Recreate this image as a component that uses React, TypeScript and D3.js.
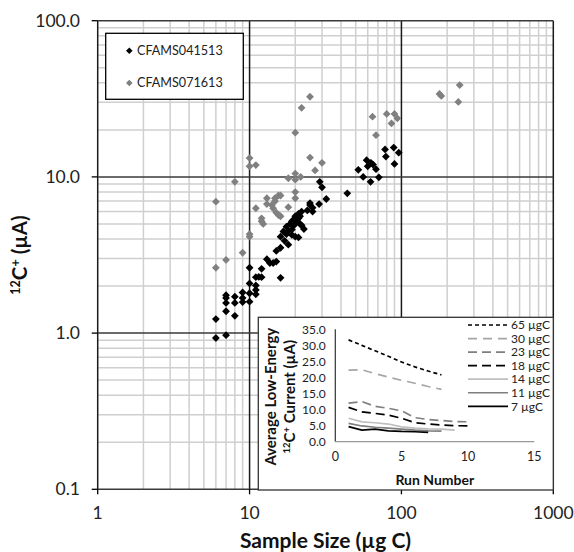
import React from "react";
import * as d3 from "d3";

// ---------- Data ----------
const seriesNames = ["CFAMS041513", "CFAMS071613"];

const blackX = [6, 6, 7, 7, 7, 7, 7, 8, 8, 8, 9, 9, 9, 10, 10, 10, 10, 11, 11, 11, 11, 11.5, 12, 12, 13, 13.6, 14.3, 15, 15, 16, 16, 16, 16.7, 17, 17.5, 17.5, 18, 18, 18.5, 19, 19, 19, 19.5, 19.5, 20, 20, 20, 20, 20.5, 20.5, 21, 21, 21, 21.5, 21.5, 22, 22, 22.8, 24, 25, 25, 26, 26, 28.7, 29, 30, 32, 44, 52, 56, 59, 60, 62.6, 63, 65, 68, 71, 78, 79, 89, 90, 96];
const blackY = [0.93, 1.23, 0.97, 1.38, 1.56, 1.68, 1.75, 1.29, 1.56, 1.71, 1.58, 1.68, 1.82, 1.59, 1.8, 2.08, 2.62, 1.77, 1.89, 2.02, 2.28, 2.29, 2.28, 2.58, 2.97, 2.81, 2.81, 2.87, 3.36, 2.26, 3.52, 4.14, 4.47, 3.9, 4.3, 4.8, 3.68, 4.5, 5.0, 4.25, 4.6, 5.2, 4.9, 5.3, 4.14, 5.0, 5.4, 5.6, 5.43, 5.2, 4.1, 5.43, 5.8, 5.0, 5.6, 4.9, 6.0, 4.64, 6.1, 6.6, 6.8, 6.0, 6.35, 6.7, 9.3, 8.58, 7.22, 7.85, 11.1, 10.0, 12.8, 11.7, 9.3, 12.3, 12.0, 11.2, 9.94, 15.0, 13.5, 15.4, 12.1, 14.3];

const grayX = [6, 6, 7, 8, 9, 10, 10, 10, 10, 11, 11, 12, 12, 12.3, 13, 13, 14, 14.3, 14.7, 14.7, 15, 15.5, 15.5, 16, 16, 18, 18, 20, 20, 20, 20, 20, 21.7, 22, 25, 25, 27, 30, 64.5, 68, 80, 86, 90, 94, 178, 183, 237, 242];
const grayY = [2.62, 6.94, 2.94, 9.3, 3.27, 4.14, 4.3, 11.7, 13.2, 6.3, 11.9, 5.2, 5.43, 5.0, 6.7, 7.3, 6.6, 6.3, 6.98, 7.3, 5.9, 5.7, 7.6, 5.6, 7.6, 6.4, 9.8, 7.3, 8.0, 9.6, 10.5, 19.2, 10.0, 27.7, 13.3, 32.6, 11.0, 12.3, 24.3, 18.5, 25.3, 22.0, 25.3, 23.7, 34.0, 33.0, 30.2, 38.7];

const xTicks = [1, 10, 100, 1000];
const yTicks = [0.1, 1, 10, 100];

// Inset data
const insetNames = ["65 µgC", "30 µgC", "23 µgC", "18 µgC", "14 µgC", "11 µgC", "7 µgC"];
const run65 = [31.7, 30.0, 28.3, 26.6, 24.8, 23.3, 22.0, 20.8];
const run30 = [22.3, 22.4, 21.2, 20.1, 19.1, 18.2, 17.2, 16.3];
const run23 = [12.0, 12.5, 11.0, 10.4, 9.6, 7.5, 6.9, 6.6, 6.3, 6.2];
const run18 = [10.7, 9.3, 8.8, 8.3, 7.3, 5.9, 5.5, 5.2, 5.0, 4.9];
const run14 = [7.3, 6.2, 5.9, 5.5, 4.6, 4.2, 4.0, 3.9, 3.6];
const run11 = [5.7, 4.9, 4.5, 4.2, 3.9, 3.6, 3.4, 3.3];
const run7 = [4.7, 3.6, 3.9, 3.4, 3.2, 3.1, 2.9];
const insetXTicks = [0, 5, 10, 15];
const insetYTicks = [0, 5, 10, 15, 20, 25, 30, 35];

// ---------- Layout ----------
const W = 574, H = 552;
const M = { left: 97.7, right: 553.3, top: 20.7, bottom: 489.3 };
const FONT = "Lato, 'Open Sans', sans-serif";

const insetStyles = [
  { color: "#000000", dash: "4,3" },
  { color: "#a6a6a6", dash: "9,6" },
  { color: "#7f7f7f", dash: "9,5" },
  { color: "#000000", dash: "9,5" },
  { color: "#bfbfbf", dash: "" },
  { color: "#7f7f7f", dash: "" },
  { color: "#000000", dash: "" },
];

function diamond(r: number) {
  return `M0,${-r}L${r},0L0,${r}L${-r},0Z`;
}

export default function App() {
  const x = d3.scaleLog().domain([1, 1000]).range([M.left, M.right]);
  const y = d3.scaleLog().domain([0.1, 100]).range([M.bottom, M.top]);

  const minorX: number[] = [];
  [1, 10, 100].forEach((d) => { for (let k = 2; k <= 9; k++) minorX.push(d * k); });
  const minorY: number[] = [];
  [0.1, 1, 10].forEach((d) => { for (let k = 2; k <= 9; k++) minorY.push(+(d * k).toFixed(3)); });

  const blackPts = blackX.map((v, i) => [v, blackY[i]]);
  const grayPts = grayX.map((v, i) => [v, grayY[i]]);

  // inset
  const IB = { left: 258.3, top: 317.3, right: 553.3, bottom: 490 };
  const ix = d3.scaleLinear().domain([0, 15]).range([335.3, 534.3]);
  const iy = d3.scaleLinear().domain([0, 35]).range([441.7, 329.3]);
  const runs = [run65, run30, run23, run18, run14, run11, run7];
  const line = d3.line<number>().x((_, i) => ix(i + 1)).y((d) => iy(d));
  const iyMid = 396.7;

  return (
    <svg width={W} height={H} style={{ position: "absolute", left: 0, top: 0, background: "#fff" }} fontFamily={FONT}>
      <rect x={0} y={0} width={W} height={H} fill="#fff" />
      {/* minor grid */}
      {minorX.map((v) => (
        <line key={"mx" + v} x1={x(v)} x2={x(v)} y1={M.top} y2={M.bottom} stroke="#cfcfcf" strokeWidth={1.5} />
      ))}
      {minorY.map((v) => (
        <line key={"my" + v} y1={y(v)} y2={y(v)} x1={M.left} x2={M.right} stroke="#cfcfcf" strokeWidth={1.5} />
      ))}
      {/* major grid */}
      {xTicks.map((v) => (
        <line key={"Mx" + v} x1={x(v)} x2={x(v)} y1={M.top} y2={M.bottom} stroke="#1a1a1a" strokeWidth={1.5} />
      ))}
      {yTicks.map((v) => (
        <line key={"My" + v} y1={y(v)} y2={y(v)} x1={M.left} x2={M.right} stroke="#3a3a3a" strokeWidth={1.5} />
      ))}
      {/* ticks */}
      {xTicks.map((v) => (
        <line key={"tx" + v} x1={x(v)} x2={x(v)} y1={M.bottom} y2={M.bottom + 5} stroke="#000" strokeWidth={1.3} />
      ))}
      {yTicks.map((v) => (
        <line key={"ty" + v} y1={y(v)} y2={y(v)} x1={M.left - 6} x2={M.left} stroke="#000" strokeWidth={1.3} />
      ))}
      {/* tick labels */}
      {xTicks.map((v) => (
        <text key={"lx" + v} x={x(v)} y={519} textAnchor="middle" fontSize={17.5} fill="#222">{String(v)}</text>
      ))}
      {yTicks.map((v) => (
        <text key={"ly" + v} x={80} y={y(v)} dy="0.35em" textAnchor="end" fontSize={17.5} fill="#222">{v.toFixed(1)}</text>
      ))}
      {/* axis titles */}
      <text x={(M.left + M.right) / 2} y={548} textAnchor="middle" fontSize={21} fontWeight="bold" fill="#111">Sample Size (µg C)</text>
      <text transform={`translate(27,${(M.top + M.bottom) / 2}) rotate(-90)`} textAnchor="middle" fontSize={20.5} fontWeight="bold" fill="#111">
        <tspan fontSize={12.5} dy="-7">12</tspan>
        <tspan dy="7">C</tspan>
        <tspan fontSize={12.5} dy="-7">+</tspan>
        <tspan dy="7"> (µA)</tspan>
      </text>

      {/* points */}
      {grayPts.map((p, i) => (
        <path key={"g" + i} d={diamond(3.9)} transform={`translate(${x(p[0])},${y(p[1])})`} fill="#808080" />
      ))}
      {blackPts.map((p, i) => (
        <path key={"b" + i} d={diamond(3.9)} transform={`translate(${x(p[0])},${y(p[1])})`} fill="#000" />
      ))}

      {/* legend */}
      <rect x={105.7} y={33.3} width={137.6} height={66} fill="#fff" stroke="#000" strokeWidth={1.3} />
      <path d={diamond(3.3)} transform="translate(129.3,50.7)" fill="#000" />
      <text x={137} y={50.7} dy="0.35em" fontSize={12.6} fill="#222">{seriesNames[0]}</text>
      <path d={diamond(3.3)} transform="translate(129.3,83)" fill="#808080" />
      <text x={137} y={83} dy="0.35em" fontSize={12.6} fill="#222">{seriesNames[1]}</text>

      {/* inset */}
      <rect x={IB.left} y={IB.top} width={IB.right - IB.left} height={IB.bottom - IB.top} fill="#fff" stroke="#333" strokeWidth={1.3} />
      <line x1={ix(0)} x2={ix(0)} y1={iy(35)} y2={iy(0)} stroke="#333" strokeWidth={1.2} />
      <line x1={ix(0)} x2={ix(15)} y1={iy(0)} y2={iy(0)} stroke="#999" strokeWidth={1.2} />
      {insetYTicks.map((v) => (
        <text key={"iy" + v} x={325.7} y={iy(v)} dy="0.35em" textAnchor="end" fontSize={12} fill="#222">{v.toFixed(1)}</text>
      ))}
      {insetXTicks.map((v) => (
        <text key={"ix" + v} x={ix(v)} y={461} textAnchor="middle" fontSize={12.5} fill="#222">{String(v)}</text>
      ))}
      <text x={ix(7.5)} y={485} textAnchor="middle" fontSize={14} fontWeight="bold" fill="#111">Run Number</text>
      <text transform={`translate(276,${iyMid}) rotate(-90)`} textAnchor="middle" fontSize={15} fontWeight="bold" fill="#111">Average Low-Energy</text>
      <text transform={`translate(295,${iyMid}) rotate(-90)`} textAnchor="middle" fontSize={15} fontWeight="bold" fill="#111">
        <tspan fontSize={9.5} dy="-5">12</tspan>
        <tspan dy="5">C</tspan>
        <tspan fontSize={9.5} dy="-5">+</tspan>
        <tspan dy="5"> Current (µA)</tspan>
      </text>
      {runs.map((r, i) => (
        <path key={"rl" + i} d={line(r) || ""} fill="none" stroke={insetStyles[i].color} strokeWidth={1.7} strokeDasharray={insetStyles[i].dash || undefined} />
      ))}
      {insetNames.map((n, i) => {
        const yy = 325 + i * 13.55;
        return (
          <g key={"il" + i}>
            <line x1={468} x2={508} y1={yy} y2={yy} stroke={insetStyles[i].color} strokeWidth={1.7} strokeDasharray={insetStyles[i].dash || undefined} />
            <text x={511} y={yy} dy="0.35em" fontSize={12} fill="#222">{n}</text>
          </g>
        );
      })}
    </svg>
  );
}
